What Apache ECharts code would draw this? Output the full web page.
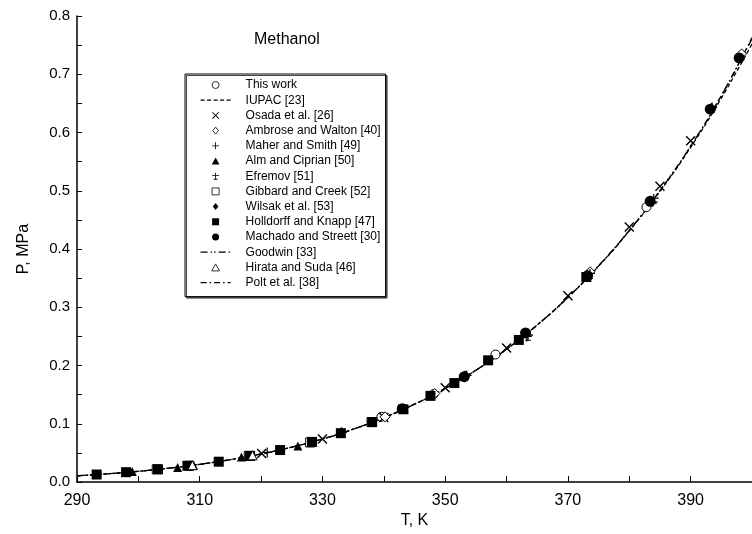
<!DOCTYPE html>
<html><head><meta charset="utf-8">
<script src="https://cdn.jsdelivr.net/npm/echarts@6/dist/echarts.min.js"></script>
<style>html,body{margin:0;padding:0;background:#fff}#c{width:752px;height:534px}</style>
</head><body><div id="c"></div>
<script>
// ---- data ----
const lineT = [290,295,300,305,310,315,320,325,330,335,340,345,350,355,360,365,370,375,380,385,390,395,400];
const iupacP = [0.0108,0.0142,0.0185,0.0239,0.0305,0.0385,0.0483,0.0600,0.0740,0.0908,0.1106,0.1337,0.1607,0.1920,0.2282,0.2697,0.3170,0.3707,0.4312,0.4990,0.5745,0.6590,0.7520];
const goodwinP = [0.0108,0.0142,0.0185,0.0239,0.0305,0.0385,0.0483,0.0600,0.0740,0.0908,0.1106,0.1337,0.1607,0.1920,0.2282,0.2697,0.3172,0.3712,0.4320,0.5003,0.5765,0.6630,0.7610];
const poltP = [0.0108,0.0142,0.0185,0.0239,0.0305,0.0385,0.0483,0.0600,0.0740,0.0908,0.1106,0.1337,0.1607,0.1920,0.2282,0.2697,0.3172,0.3712,0.4320,0.5003,0.5765,0.6635,0.7630];

const thisWorkT = [339.6, 348.1, 358.2, 382.8];
const thisWorkP = [0.112, 0.151, 0.219, 0.472];
const osadaT = [320.1, 330.0, 340.0, 350.0, 360.0, 370.0, 380.0, 385.0, 390.0];
const osadaP = [0.049, 0.074, 0.111, 0.162, 0.230, 0.320, 0.438, 0.508, 0.586];
const ambroseT = [340.2, 348.3, 373.6, 398.3];
const ambroseP = [0.112, 0.152, 0.361, 0.735];
const maherT = [321.0, 353.5, 363.3, 383.8, 393.4];
const maherP = [0.051, 0.183, 0.250, 0.481, 0.642];
const almT = [299.0, 306.4, 309.0, 316.8, 326.0];
const almP = [0.018, 0.025, 0.029, 0.043, 0.062];
const efremovT = [363.5, 373.6, 384.0, 393.5];
const efremovP = [0.251, 0.357, 0.486, 0.643];
const gibbardT = [303.0, 308.3, 318.0, 328.0, 338.0];
const gibbardP = [0.022, 0.028, 0.045, 0.068, 0.103];
const wilsakT = [333.1, 353.2, 373.2];
const wilsakP = [0.085, 0.182, 0.354];
const holldorffT = [293.2, 298.0, 303.2, 308.0, 313.1, 318.2, 323.1, 328.3, 333.0, 338.1, 343.2, 347.6, 351.5, 357.0, 362.0, 373.0];
const holldorffP = [0.013, 0.017, 0.022, 0.028, 0.035, 0.045, 0.055, 0.069, 0.084, 0.103, 0.125, 0.148, 0.170, 0.209, 0.244, 0.352];
const machadoT = [343.0, 353.1, 363.1, 373.2, 383.4, 393.2, 397.9];
const machadoP = [0.126, 0.181, 0.256, 0.354, 0.482, 0.640, 0.728];
const hirataT = [308.8, 318.6];
const hirataP = [0.029, 0.046];

const seriesNames = ['This work','IUPAC [23]','Osada et al. [26]','Ambrose and Walton [40]','Maher and Smith [49]','Alm and Ciprian [50]','Efremov [51]','Gibbard and Creek [52]','Wilsak et al. [53]','Holldorff and Knapp [47]','Machado and Streett [30]','Goodwin [33]','Hirata and Suda [46]','Polt et al. [38]'];

// ---- build ----
const zip = (a, b) => a.map((v, i) => [v, b[i]]);
const FONT = '"Liberation Sans", Arial, sans-serif';
const CROSS = 'path://M0,1 L1,0 L10,9 L9,10 Z M9,0 L10,1 L1,10 L0,9 Z';
const PLUS = 'path://M4.4,0 H5.6 V10 H4.4 Z M0,4.4 H10 V5.6 H0 Z';
const EFREMOV = 'path://M4.4,0 H5.6 V10 H4.4 Z M0,3.6 H10 V4.8 H0 Z M2.2,8.8 H7.8 V10 H2.2 Z';
const RECT = 'path://M0,0 H10 V10 H0 Z';
const DIAMOND = 'path://M5,0 L9,5 L5,10 L1,5 Z';
const TRIANGLE = 'path://M5,0 L10,9 L0,9 Z';
const CIRCLE = 'circle';

const EMPTY = {color: '#fff', borderColor: '#000', borderWidth: 1, opacity: 1};
const FILLED = {color: '#000', borderWidth: 0, opacity: 1};
const HIDDEN = {color: 'rgba(0,0,0,0)', borderColor: 'rgba(0,0,0,0)', borderWidth: 0, opacity: 0};

// [symbol, size, empty] for scatter series; dash for line series
const styleOf = {
  'This work': [CIRCLE, 9, true],
  'Osada et al. [26]': [CROSS, 10, false],
  'Ambrose and Walton [40]': [DIAMOND, 10, true],
  'Maher and Smith [49]': [PLUS, 10, false],
  'Alm and Ciprian [50]': [TRIANGLE, 9, false],
  'Efremov [51]': [EFREMOV, 10, false],
  'Gibbard and Creek [52]': [RECT, 9, true],
  'Wilsak et al. [53]': [DIAMOND, 11, false],
  'Holldorff and Knapp [47]': [RECT, 10, false],
  'Machado and Streett [30]': [CIRCLE, 11, false],
  'Hirata and Suda [46]': [TRIANGLE, 9, true]
};
const dashOf = {
  'IUPAC [23]': [4, 2.5],
  'Goodwin [33]': [7, 3, 1.5, 2, 1.5, 3],
  'Polt et al. [38]': [6, 3, 1.5, 3]
};

function scatter(name, T, P) {
  const [symbol, size, empty] = styleOf[name];
  return {
    name, type: 'scatter', data: zip(T, P), symbol, symbolSize: size, z: 5,
    itemStyle: empty ? EMPTY : FILLED
  };
}
function line(name, P) {
  return {
    name, type: 'line', data: zip(lineT, P), symbol: 'none', smooth: true, z: 3,
    lineStyle: {color: '#000', width: 1.3, type: dashOf[name]}, itemStyle: {color: '#000'}
  };
}

const series = [
  scatter('This work', thisWorkT, thisWorkP),
  line('IUPAC [23]', iupacP),
  scatter('Osada et al. [26]', osadaT, osadaP),
  scatter('Ambrose and Walton [40]', ambroseT, ambroseP),
  scatter('Maher and Smith [49]', maherT, maherP),
  scatter('Alm and Ciprian [50]', almT, almP),
  scatter('Efremov [51]', efremovT, efremovP),
  scatter('Gibbard and Creek [52]', gibbardT, gibbardP),
  scatter('Wilsak et al. [53]', wilsakT, wilsakP),
  scatter('Holldorff and Knapp [47]', holldorffT, holldorffP),
  scatter('Machado and Streett [30]', machadoT, machadoP),
  line('Goodwin [33]', goodwinP),
  scatter('Hirata and Suda [46]', hirataT, hirataP),
  line('Polt et al. [38]', poltP)
];

const legendData = seriesNames.map(n => {
  if (dashOf[n]) return {name: n, itemStyle: HIDDEN, lineStyle: {color: '#000', width: 1.2, type: dashOf[n]}};
  const [symbol, , empty] = styleOf[n];
  return {name: n, icon: symbol, itemStyle: empty ? {color: '#fff', borderColor: '#000', borderWidth: 0.8, opacity: 1} : FILLED};
});

const chart = echarts.init(document.getElementById('c'), null, {renderer: 'canvas'});
chart.setOption({
  animation: false,
  backgroundColor: '#fff',
  textStyle: {fontFamily: FONT},
  title: {
    text: 'Methanol', left: 249, top: 27,
    textStyle: {fontFamily: FONT, fontSize: 16, fontWeight: 'normal', color: '#000'}
  },
  grid: {left: 77, width: 679, top: 16, bottom: 43, containLabel: false},
  legend: {
    orient: 'vertical', left: 185, top: 74,
    data: legendData,
    itemWidth: 30, itemHeight: 7, itemGap: 3.2,
    symbolKeepAspect: true,
    padding: [5, 5, 8, 15],
    backgroundColor: '#fff', borderColor: '#000', borderWidth: 1,
    shadowColor: '#444', shadowOffsetX: 1.5, shadowOffsetY: 1.5, shadowBlur: 0,
    selectedMode: false,
    textStyle: {fontFamily: FONT, fontSize: 12, color: '#000', lineHeight: 12, padding: [0, 0, 0, 10]}
  },
  xAxis: {
    type: 'value', min: 290, max: 400, interval: 20,
    name: 'T, K', nameLocation: 'middle', nameGap: 27,
    nameTextStyle: {fontFamily: FONT, fontSize: 16, color: '#000'},
    axisLine: {show: true, onZero: false, lineStyle: {color: '#000', width: 1.5}},
    axisTick: {show: true, inside: true, length: 6, lineStyle: {color: '#000'}},
    minorTick: {show: true, splitNumber: 2, length: 6, lineStyle: {color: '#000'}},
    axisLabel: {fontFamily: FONT, fontSize: 16, color: '#000', margin: 10, showMaxLabel: false},
    splitLine: {show: false}
  },
  yAxis: {
    type: 'value', min: 0, max: 0.8, interval: 0.1,
    name: 'P, MPa', nameLocation: 'middle', nameGap: 45, nameRotate: 90,
    nameTextStyle: {fontFamily: FONT, fontSize: 16, color: '#000'},
    axisLine: {show: true, onZero: false, lineStyle: {color: '#000', width: 1.5}},
    axisTick: {show: true, inside: true, length: 5, lineStyle: {color: '#000'}},
    minorTick: {show: true, splitNumber: 2, length: 5, lineStyle: {color: '#000'}},
    axisLabel: {fontFamily: FONT, fontSize: 15, color: '#000', margin: 7, formatter: v => v.toFixed(1)},
    splitLine: {show: false}
  },
  series
});
</script></body></html>
